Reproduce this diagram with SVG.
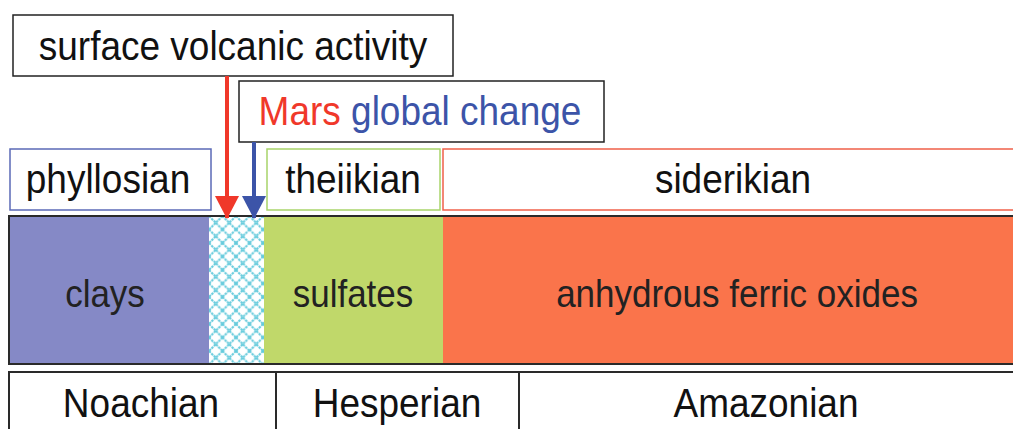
<svg xmlns="http://www.w3.org/2000/svg" width="1013" height="429" viewBox="0 0 1013 429">
  <style>
    text { font-family: "Liberation Sans", Arial, sans-serif; text-anchor: middle; }
    .lbl { font-size: 37px; fill: #111; }
    .min { font-size: 35px; fill: #222; }
    .box { fill: #fff; stroke-width: 1.5; }
    .edge { fill: none; stroke: #2a2a2a; stroke-width: 2; }
  </style>
  <defs>
    <pattern id="hatch" x="209" y="216" width="13.5" height="13.5" patternUnits="userSpaceOnUse">
      <rect width="13.5" height="13.5" fill="#fff"/>
      <path d="M0,0 L13.5,13.5 M13.5,0 L0,13.5" stroke="#62cadc" stroke-width="2" stroke-dasharray="2.4 0.9"/>
    </pattern>
    <!-- arrowheads drawn along +x so orient="auto" turns them down the shaft -->
    <marker id="headRed" viewBox="0 0 23 24" refX="22" refY="12" markerWidth="23" markerHeight="24" markerUnits="userSpaceOnUse" orient="auto">
      <path d="M0,0 L23,12 L0,24 Z" fill="#f0382a"/>
    </marker>
    <marker id="headBlue" viewBox="0 0 23 24" refX="22" refY="12" markerWidth="23" markerHeight="24" markerUnits="userSpaceOnUse" orient="auto">
      <path d="M0,0 L23,12 L0,24 Z" fill="#3c54a8"/>
    </marker>
  </defs>

  <rect width="1013" height="429" fill="#fff"/>

  <!-- mineral bar -->
  <g id="bar">
    <rect x="9" y="216" width="200" height="148" fill="#8589c6"/>
    <rect x="209" y="216" width="55" height="148" fill="url(#hatch)"/>
    <rect x="264" y="216" width="179" height="148" fill="#c0d86a"/>
    <rect x="443" y="216" width="572" height="148" fill="#fa744b"/>
    <path class="edge" d="M1015,216 H9 V364 H1015"/>
  </g>
  <g id="clays"><text class="min" transform="translate(105,307) scale(1,1.1)">clays</text></g>
  <g id="sulfates"><text class="min" transform="translate(353,307) scale(1,1.1)">sulfates</text></g>
  <g id="oxides"><text class="min" transform="translate(737,307) scale(1,1.1)">anhydrous ferric oxides</text></g>

  <!-- eras -->
  <g id="phyllosian">
    <rect class="box" x="10" y="149" width="201" height="61" stroke="#5b6ab7"/>
    <text class="lbl" transform="translate(108,193) scale(1,1.1)">phyllosian</text>
  </g>
  <g id="theiikian">
    <rect class="box" x="267" y="149" width="173" height="61" stroke="#a8d46a"/>
    <text class="lbl" transform="translate(353,193) scale(1,1.1)">theiikian</text>
  </g>
  <g id="siderikian">
    <rect class="box" x="443" y="149" width="575" height="61" stroke="#f0604a"/>
    <text class="lbl" transform="translate(733,193) scale(1,1.1)">siderikian</text>
  </g>

  <!-- events -->
  <g id="volcanic">
    <rect class="box" x="13" y="15" width="440" height="61" stroke="#222"/>
    <text class="lbl" transform="translate(233,60) scale(1,1.1)">surface volcanic activity</text>
  </g>
  <g id="global-change">
    <rect class="box" x="239" y="81" width="365" height="61" stroke="#222"/>
    <text class="lbl" transform="translate(420,125) scale(1,1.1)"><tspan fill="#f0382a">Mars</tspan> <tspan fill="#3c54a8">global  change</tspan></text>
  </g>

  <!-- connectors -->
  <g id="connectors">
    <line x1="227" y1="76" x2="227" y2="218" stroke="#f0382a" stroke-width="4" marker-end="url(#headRed)"/>
    <line x1="254" y1="142" x2="254" y2="218" stroke="#3c54a8" stroke-width="4" marker-end="url(#headBlue)"/>
  </g>

  <!-- geological periods -->
  <g id="periods">
    <path class="edge" d="M1015,372 H9 V431 M276,372 V431 M519,372 V431" stroke-width="1.6"/>
  </g>
  <g id="noachian"><text class="lbl" transform="translate(141,417) scale(1,1.1)">Noachian</text></g>
  <g id="hesperian"><text class="lbl" transform="translate(397,417) scale(1,1.1)">Hesperian</text></g>
  <g id="amazonian"><text class="lbl" transform="translate(766,417) scale(1,1.1)">Amazonian</text></g>
</svg>
